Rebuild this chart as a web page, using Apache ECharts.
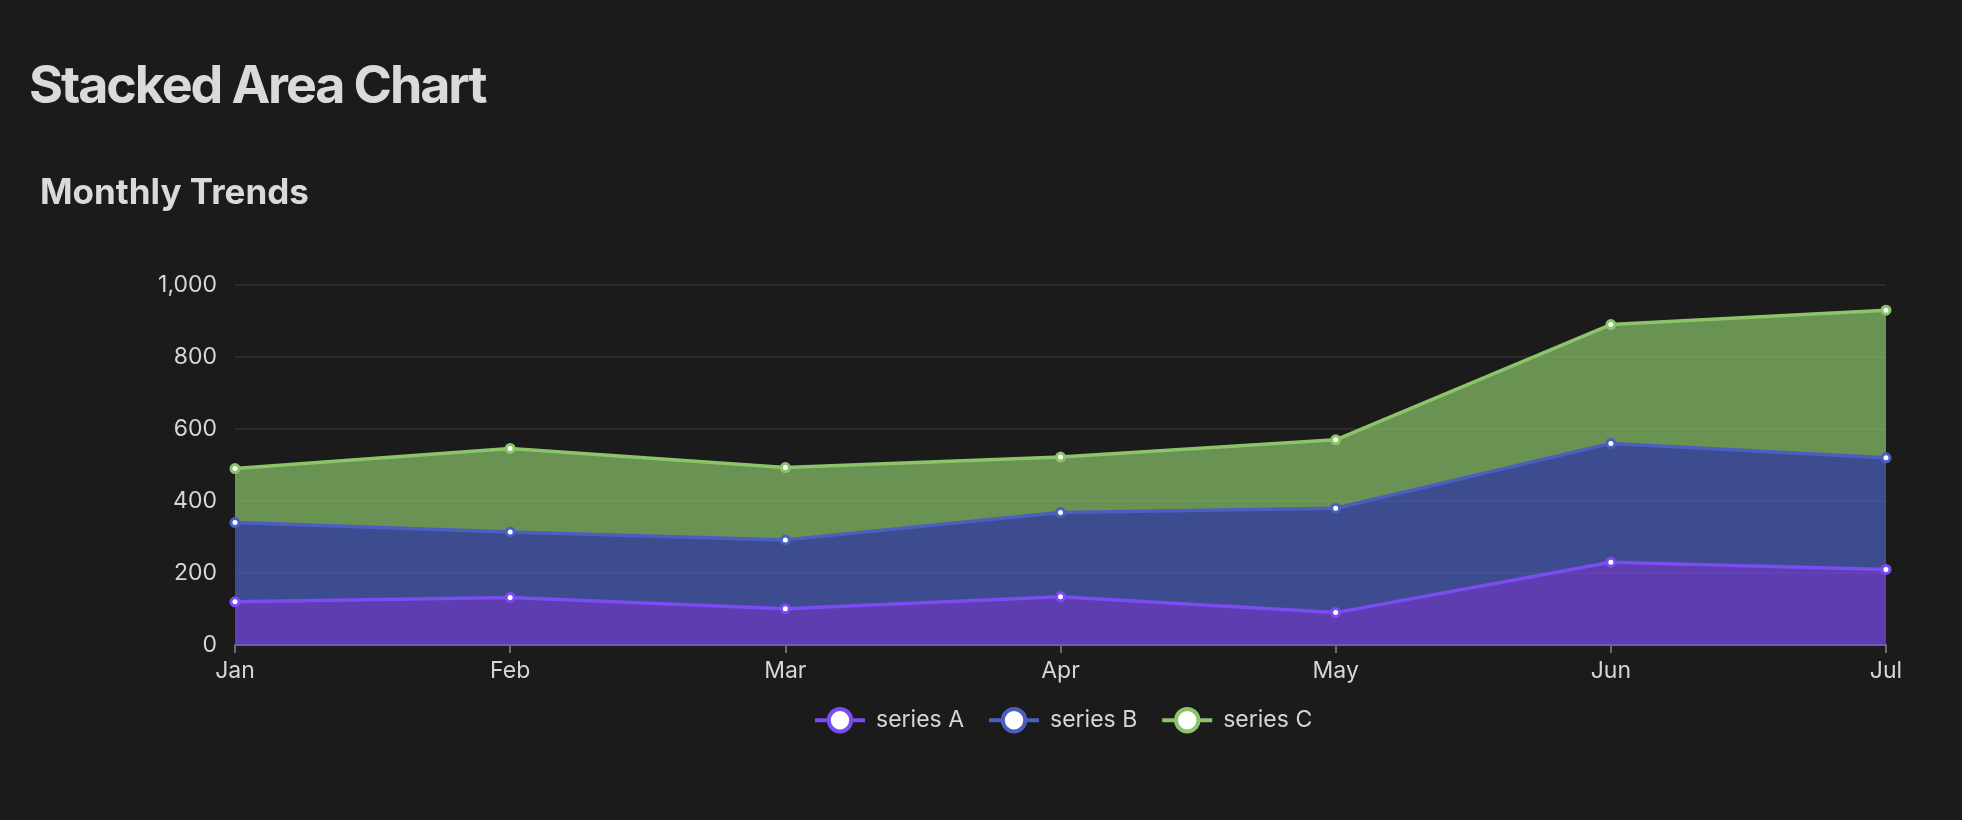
<!DOCTYPE html>
<html lang="en">
<head>
    <meta charset="UTF-8">
    <title>Stacked Area Chart</title>
    <script src="https://cdn.jsdelivr.net/npm/echarts@6/dist/echarts.min.js"></script>
    <style>
        html, body { margin: 0; padding: 0; background: #1b1b1b; }
        body { width: 1962px; height: 820px; position: relative; overflow: hidden; font-family: Inter, "Noto Sans", sans-serif; }
        h1 { position: absolute; left: 29px; top: 59px; margin: 0; font-size: 52px; line-height: 1; font-weight: 700; letter-spacing: -2.1px; color: #dadada; z-index: 2; }
        #chart { position: absolute; left: 0; top: 0; width: 1962px; height: 820px; }
    </style>
</head>
<body>
    <h1>Stacked Area Chart</h1>
    <div id="chart"></div>

    <script type="text/javascript">
        var months = ['Jan', 'Feb', 'Mar', 'Apr', 'May', 'Jun', 'Jul'];
        var seriesNames = ['series A', 'series B', 'series C'];
        var seriesA = [120, 132, 101, 134, 90, 230, 210];
        var seriesB = [220, 182, 191, 234, 290, 330, 310];
        var seriesC = [150, 232, 201, 154, 190, 330, 410];
        var lineColors = ['#7b4cf0', '#4b5fc0', '#8cc46a'];

        var values = [seriesA, seriesB, seriesC];
        var series = [];
        for (var i = 0; i < values.length; i++) {
            series.push({
                name: seriesNames[i],
                type: 'line',
                stack: 'total',
                data: values[i],
                symbol: 'circle',
                symbolSize: 8,
                showSymbol: true,
                lineStyle: { color: lineColors[i], width: 3.5 },
                itemStyle: { color: '#ffffff', borderColor: lineColors[i], borderWidth: 3 },
                areaStyle: { color: lineColors[i], opacity: 0.7 },
                emphasis: { disabled: true }
            });
        }

        var ec = echarts.init(document.getElementById('chart'));
        var option = {
            backgroundColor: '#1b1b1b',
            animation: false,
            textStyle: { fontFamily: 'Inter' },
            title: {
                text: 'Monthly Trends',
                left: 35,
                top: 171,
                textStyle: { color: '#dadada', fontSize: 35, fontWeight: 700, fontFamily: 'Inter' }
            },
            legend: {
                data: seriesNames,
                left: 813,
                top: 707,
                padding: 0,
                itemWidth: 50,
                itemHeight: 28,
                itemGap: 23,
                itemStyle: { borderWidth: 4 },
                lineStyle: { width: 4 },
                textStyle: { color: '#d6d6d6', fontSize: 23, fontFamily: 'Inter', padding: [0, 0, 0, 6] }
            },
            grid: { left: 235, right: 76, top: 285, bottom: 175 },
            xAxis: {
                type: 'category',
                boundaryGap: false,
                data: months,
                axisLine: { lineStyle: { color: '#6b6b6b', width: 2 } },
                axisTick: { length: 8, lineStyle: { color: '#6b6b6b', width: 2 } },
                axisLabel: { color: '#d6d6d6', fontSize: 23, margin: 15 }
            },
            yAxis: {
                type: 'value',
                min: 0,
                max: 1000,
                interval: 200,
                axisLine: { show: false },
                axisTick: { show: false },
                axisLabel: { color: '#d6d6d6', fontSize: 23, margin: 18 },
                splitLine: { lineStyle: { color: '#333333', width: 1.5 } }
            },
            series: series
        };
        ec.setOption(option);
    </script>
</body>
</html>
